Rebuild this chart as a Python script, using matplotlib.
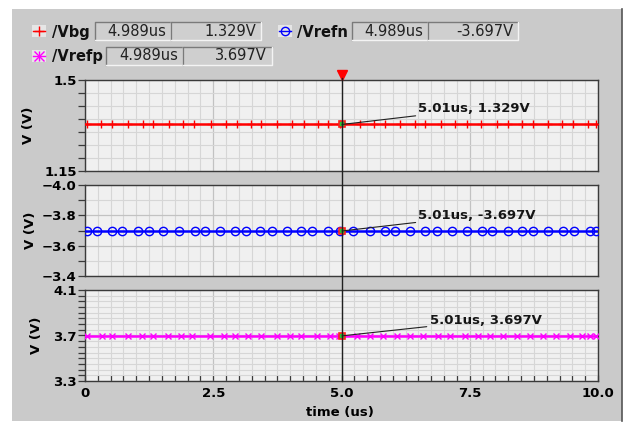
import matplotlib
matplotlib.use("Agg")
import matplotlib.pyplot as plt
from matplotlib.patches import Rectangle
from matplotlib.lines import Line2D
import matplotlib.transforms as mtransforms

# ---------------- data ----------------
t_vbg = [0.03, 0.32, 0.53, 0.84, 1.14, 1.33, 1.64, 1.92, 2.13, 2.45, 2.75, 2.96,
         3.24, 3.44, 3.74, 4.04, 4.26, 4.55, 4.74, 4.97, 5.36, 5.64, 5.84, 6.14,
         6.43, 6.63, 6.94, 7.21, 7.44, 7.72, 8.03, 8.24, 8.51, 8.74, 9.03, 9.29,
         9.52, 9.81, 9.97]
t_vrefn = [0.03, 0.24, 0.53, 0.73, 1.04, 1.25, 1.53, 1.83, 2.14, 2.34, 2.63, 2.92,
           3.13, 3.41, 3.64, 3.94, 4.22, 4.42, 4.74, 4.97, 5.23, 5.56, 5.84, 6.04,
           6.34, 6.63, 6.86, 7.15, 7.44, 7.73, 7.93, 8.25, 8.51, 8.74, 9.03, 9.32,
           9.54, 9.84, 9.97]
t_vrefp = [0.04, 0.33, 0.53, 0.84, 1.11, 1.33, 1.62, 1.88, 2.08, 2.44, 2.70, 2.92,
           3.18, 3.44, 3.74, 4.00, 4.22, 4.52, 4.78, 4.96, 5.30, 5.56, 5.81, 6.08,
           6.34, 6.59, 6.89, 7.12, 7.41, 7.67, 7.89, 8.15, 8.42, 8.67, 8.93, 9.19,
           9.45, 9.68, 9.84, 9.97]
v_vbg = 1.329
v_vrefn = -3.697
v_vrefp = 3.697

cursor_t = 5.01
legend_t = "4.989us"
legend_v = ["1.329V", "-3.697V", "3.697V"]
annot = ["5.01us, 1.329V", "5.01us, -3.697V", "5.01us, 3.697V"]
names = ["/Vbg", "/Vrefn", "/Vrefp"]

x_major = [0, 2.5, 5.0, 7.5, 10.0]
x_major_labels = ["0", "2.5", "5.0", "7.5", "10.0"]
x_minor = [i * 0.25 for i in range(41)]

y1_lim = (1.15, 1.5)
y1_major = [1.15, 1.5]
y1_labels = ["1.15", "1.5"]
y1_minor = [1.15, 1.2, 1.25, 1.3, 1.35, 1.4, 1.45, 1.5]

y2_lim = (-3.4, -4.0)
y2_major = [-4.0, -3.8, -3.6, -3.4]
y2_labels = ["\u22124.0", "\u22123.8", "\u22123.6", "\u22123.4"]
y2_minor = [-4.0, -3.9, -3.8, -3.7, -3.6, -3.5, -3.4]

y3_lim = (3.3, 4.1)
y3_major = [3.3, 3.7, 4.1]
y3_labels = ["3.3", "3.7", "4.1"]
y3_minor = [3.3, 3.35, 3.4, 3.45, 3.5, 3.55, 3.6, 3.65, 3.7, 3.75, 3.8, 3.85,
            3.9, 3.95, 4.0, 4.05, 4.1]

# ---------------- layout helpers ----------------
W, H = 624, 423
fig = plt.figure(figsize=(W / 100, H / 100), dpi=100)
fig.patch.set_facecolor("white")


def fx(x):
    return x / W


def fy(y):
    return 1 - y / H


BG = "#cacaca"
fig.patches.append(Rectangle((fx(12), fy(421)), fx(610), (421 - 9) / H,
                             transform=fig.transFigure, fc=BG, ec="none", zorder=-10))
fig.add_artist(Line2D([fx(622), fx(622)], [fy(9), fy(421)], transform=fig.transFigure,
                      color="#555555", lw=1.2))

L, R = 85, 598
panels = [(80, 171), (185, 276), (290, 381)]
axes = []
for top, bot in panels:
    ax = fig.add_axes([fx(L), fy(bot), (R - L) / W, (bot - top) / H])
    axes.append(ax)

specs = [
    (t_vbg, v_vbg, "#ff0000", "+", y1_lim, y1_major, y1_labels, y1_minor, 6, -0.097),
    (t_vrefn, v_vrefn, "#0000ff", "o", y2_lim, y2_major, y2_labels, y2_minor, 6, -0.093),
    (t_vrefp, v_vrefp, "#ff00ff", "x", y3_lim, y3_major, y3_labels, y3_minor, 5, -0.082),
]

for i, (ax, sp) in enumerate(zip(axes, specs)):
    t, v, col, mk, ylim, ymaj, ylab, ymin, ms, lblx = sp
    ax.set_facecolor("#f0f0f0")
    ax.set_xlim(0, 10)
    ax.set_ylim(*ylim)
    ax.set_xticks(x_minor, minor=True)
    ax.set_xticks(x_major)
    ax.set_yticks(ymin, minor=True)
    ax.set_yticks(ymaj)
    ax.set_yticklabels(ylab, fontsize=9.5, fontweight="bold")
    ax.grid(which="minor", color="#d6d6d6", lw=0.8)
    ax.grid(which="major", color="#c2c2c2", lw=0.9)
    ax.set_axisbelow(True)
    for s in ax.spines.values():
        s.set_color("#3a3a3a")
        s.set_linewidth(1.0)
    ax.tick_params(axis="y", which="both", direction="out", length=5, width=0.9,
                   color="#3a3a3a", pad=1, right=False)
    if i < 2:
        ax.tick_params(axis="x", which="both", length=0, labelbottom=False)
    else:
        ax.set_xticklabels(x_major_labels, fontsize=9.5, fontweight="bold")
        ax.tick_params(axis="x", which="both", direction="in", length=4, width=0.9,
                       color="#3a3a3a", pad=4)
    ax.set_ylabel("V (V)", fontsize=9.5, fontweight="bold")
    ax.yaxis.set_label_coords(lblx, 0.5)

    ax.axhline(v, color=col, lw=1.8, zorder=3)
    kw = dict(mfc="none") if mk == "o" else {}
    ax.plot(t, [v] * len(t), ls="none", marker=mk, color=col, ms=ms, mew=1.0,
            zorder=4, **kw)
    # cursor intersection marker
    ax.plot([cursor_t], [v], marker="s", ms=4, mfc="#30c030", mec="#ff2020",
            mew=1.2, zorder=6)
    dx = 55 if i < 2 else 63
    ax.annotate(annot[i], xy=(cursor_t, v), xytext=(dx, 6.5), textcoords="offset points",
                ha="left", va="bottom", fontsize=9.5, fontweight="bold",
                color="#151515",
                arrowprops=dict(arrowstyle="-", color="#202020", lw=0.8,
                                shrinkA=0, shrinkB=0), zorder=7)

# cursor line across all panels
trans = mtransforms.blended_transform_factory(axes[0].transData, fig.transFigure)
fig.add_artist(Line2D([5.0, 5.0], [fy(381), fy(78)], transform=trans,
                      color="#202020", lw=1.0, zorder=8))
fig.add_artist(Line2D([5.0], [fy(75)], transform=trans, marker="v", ms=7,
                      color="#ff0000", mec="#ff0000", ls="none"))

fig.text(fx(340), fy(412), "time (us)", fontsize=9.5, fontweight="bold",
         ha="center", va="center")

# ---------------- legend ----------------
def value_box(x0, x1, y0, y1, txt):
    fig.patches.append(Rectangle((fx(x0), fy(y1)), (x1 - x0) / W, (y1 - y0) / H,
                                 transform=fig.transFigure, fc="#cfcfcf", ec="none"))
    # sunken bevel
    fig.add_artist(Line2D([fx(x0), fx(x0), fx(x1)], [fy(y1), fy(y0), fy(y0)],
                          transform=fig.transFigure, color="#7a7a7a", lw=1.0))
    fig.add_artist(Line2D([fx(x0), fx(x1), fx(x1)], [fy(y1), fy(y1), fy(y0)],
                          transform=fig.transFigure, color="#f4f4f4", lw=1.0))
    fig.text(fx(x1 - 5), fy((y0 + y1) / 2), txt, ha="right", va="center",
             fontsize=10.5, color="#222222")


def legend_icon(xc, yc, col, mk):
    fig.patches.append(Rectangle((fx(xc - 7), fy(yc + 6)), 14 / W, 12 / H,
                                 transform=fig.transFigure, fc="#e6e6e6", ec="none"))
    kw = dict(mfc="none") if mk == "o" else {}
    fig.add_artist(Line2D([fx(xc - 6), fx(xc + 6)], [fy(yc)] * 2, transform=fig.transFigure,
                          color=col, lw=1.0))
    fig.add_artist(Line2D([fx(xc)], [fy(yc)], transform=fig.transFigure, marker=mk,
                          color=col, ms=7 if mk != "o" else 6, mew=1.0, ls="none", **kw))


rows = [
    (39, 31, "#ff0000", "+", 52, 95, 171, 261, 22, 40),
    (285, 31, "#0000ff", "o", 297, 352, 428, 518, 22, 40),
    (39, 56, "#ff00ff", "*", 52, 106, 183, 272, 47, 65),
]
for k, (ix, iy, col, mk, tx, b0, b1, b2, y0, y1) in enumerate(rows):
    legend_icon(ix, iy, col, "x" if mk == "*" else mk)
    if mk == "*":
        fig.add_artist(Line2D([fx(ix)], [fy(iy)], transform=fig.transFigure, marker="|",
                              color=col, ms=7, mew=1.0, ls="none"))
    fig.text(fx(tx), fy(iy + 1), names[k], ha="left", va="center", fontsize=10.5,
             fontweight="bold", color="#111111")
    value_box(b0, b1, y0, y1, legend_t)
    value_box(b1, b2, y0, y1, legend_v[k])

fig.savefig("out.png", dpi=100)
